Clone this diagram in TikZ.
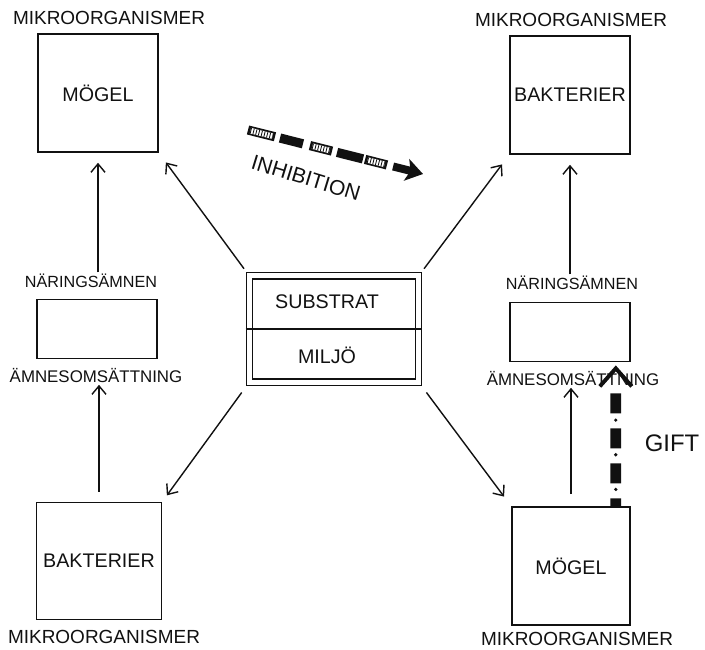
\documentclass[tikz,border=0pt]{standalone}
\usepackage{fontspec}
\setmainfont{Liberation Sans}
\usepackage{tikz}
\usetikzlibrary{arrows.meta, positioning, calc}
\definecolor{inkblack}{HTML}{111111}
\tikzset{
  orgbox/.style={draw=inkblack, line width=1.1pt, minimum width=3cm, minimum height=2.95cm,
                 inner sep=1pt, text=inkblack, font=\fontsize{14}{16}\selectfont},
  stoffbox/.style={draw=inkblack, line width=1.1pt, minimum width=3cm, minimum height=1.48cm},
  tagtext/.style={inner sep=1pt, text=inkblack, font=\fontsize{12}{14}\selectfont},
  flowarrow/.style={-{Straight Barb[length=6pt, width=10pt]}, line width=1pt, inkblack},
}

\begin{document}
\begin{tikzpicture}[x=0.025cm, y=-0.025cm]
  \useasboundingbox (0,0) rectangle (705,650);
  % organisms
  \node[orgbox] (mogelTop) at (98,93) {MÖGEL};
  \node[orgbox] (bakTop) at (570,95) {BAKTERIER};
  \node[orgbox, minimum width=3.12cm, minimum height=2.92cm] (bakBot) at (99,561) {BAKTERIER};
  \node[orgbox, minimum width=2.95cm] (mogelBot) at (571,566) {MÖGEL};
  \node[tagtext, font=\fontsize{13.5}{15}\selectfont] (mikTL) at (109,18) {MIKROORGANISMER};
  \node[tagtext, font=\fontsize{13.5}{15}\selectfont] (mikTR) at (571,20) {MIKROORGANISMER};
  \node[tagtext, font=\fontsize{13.5}{15}\selectfont] (mikBL) at (104,637) {MIKROORGANISMER};
  \node[tagtext, font=\fontsize{13.5}{15}\selectfont] (mikBR) at (577,639) {MIKROORGANISMER};
  % nutrients
  \node[stoffbox] (narLeft) at (97,329) {};
  \node[stoffbox] (narRight) at (570,332) {};
  \node[tagtext, font=\fontsize{11.5}{13}\selectfont] (narLeftTag) at (91,281) {NÄRINGSÄMNEN};
  \node[tagtext, font=\fontsize{11.5}{13}\selectfont] (narRightTag) at (572,283) {NÄRINGSÄMNEN};
  \node[tagtext] (amnLeft) at (96,376) {ÄMNESOMSÄTTNING};
  \node[tagtext] (amnRight) at (573,379) {ÄMNESOMSÄTTNING};
  % substrate / environment
  \node[draw=inkblack, double, double distance=0.13cm, line width=0.9pt,
        minimum width=4.23cm, minimum height=2.66cm] (env) at (334,329) {};
  \draw[line width=0.9pt, inkblack, shorten <=-0.08cm, shorten >=-0.08cm] (env.west) -- (env.east);
  \node[text=inkblack, font=\fontsize{14}{16}\selectfont] (substrat) at (327,302) {SUBSTRAT};
  \node[text=inkblack, font=\fontsize{14}{16}\selectfont] (miljo) at (327,355) {MILJÖ};

  \draw[flowarrow, shorten <=0.25cm] (bakBot.north) -- (bakBot.north |- amnLeft.south);
  \draw[flowarrow, shorten >=0.25cm] (mogelTop.south |- narLeftTag.north) -- (mogelTop.south);
  \draw[flowarrow, shorten <=0.3cm] (mogelBot.north) -- (mogelBot.north |- amnRight.south);
  \draw[flowarrow, shorten >=0.25cm] (bakTop.south |- narRightTag.north) -- (bakTop.south);

  \draw[flowarrow, shorten <=0.2cm, shorten >=0.3cm] (env.north west) -- (mogelTop.south east);
  \draw[flowarrow, shorten <=0.2cm, shorten >=0.3cm] (env.north east) -- (bakTop.south west);
  \draw[flowarrow, shorten <=0.3cm, shorten >=0.2cm] (env.south west) -- (bakBot.north east);
  \draw[flowarrow, shorten <=0.3cm, shorten >=0.3cm] (env.south east) -- (mogelBot.north west);

  % inhibition
  \coordinate (inhA) at (248,130);
  \coordinate (inhB) at (423,174);
  \foreach \a/\b in {0/0.154, 0.354/0.48, 0.669/0.794} {
    \pgfmathsetmacro\ai{\a+0.014}
    \pgfmathsetmacro\bi{\b-0.014}
    \draw[line width=0.23cm, inkblack] ($(inhA)!\a!(inhB)$) -- ($(inhA)!\b!(inhB)$);
    \draw[line width=0.14cm, white] ($(inhA)!\ai!(inhB)$) -- ($(inhA)!\bi!(inhB)$);
    \draw[line width=0.14cm, inkblack, dash pattern=on 0.6pt off 1.4pt] ($(inhA)!\ai!(inhB)$) -- ($(inhA)!\bi!(inhB)$);
  }
  \foreach \a/\b in {0.183/0.314, 0.509/0.657}
    \draw[line width=0.23cm, inkblack] ($(inhA)!\a!(inhB)$) -- ($(inhA)!\b!(inhB)$);
  \draw[line width=0.2cm, inkblack, -{Stealth[length=0.42cm, width=0.55cm, inset=0.1cm]}]
    ($(inhA)!0.829!(inhB)$) -- (inhB);
  \node[text=inkblack, font=\fontsize{15}{17}\selectfont, rotate=-17] (inhTag) at (306,178) {INHIBITION};

  % poison
  \coordinate (giftA) at ($(mogelBot.north east)+(-15,0)$);
  \coordinate (giftB) at ($(narRight.south east)+(-15,31)$);
  \draw[line width=0.27cm, inkblack, dash pattern=on 0.5cm off 0.375cm] (giftB) -- (giftA);
  \foreach \t in {0.237, 0.544, 0.851}
    \fill[inkblack] ($(giftB)!\t!(giftA)$) circle (1.3pt);
  \draw[line width=2.8pt, inkblack] ($(giftB)+(-16,-7)$) -- ($(giftB)+(0,-25)$) -- ($(giftB)+(16,-7)$);
  \node[text=inkblack, font=\fontsize{17}{19}\selectfont] (giftTag) at (672,443) {GIFT};
\end{tikzpicture}
\end{document}
